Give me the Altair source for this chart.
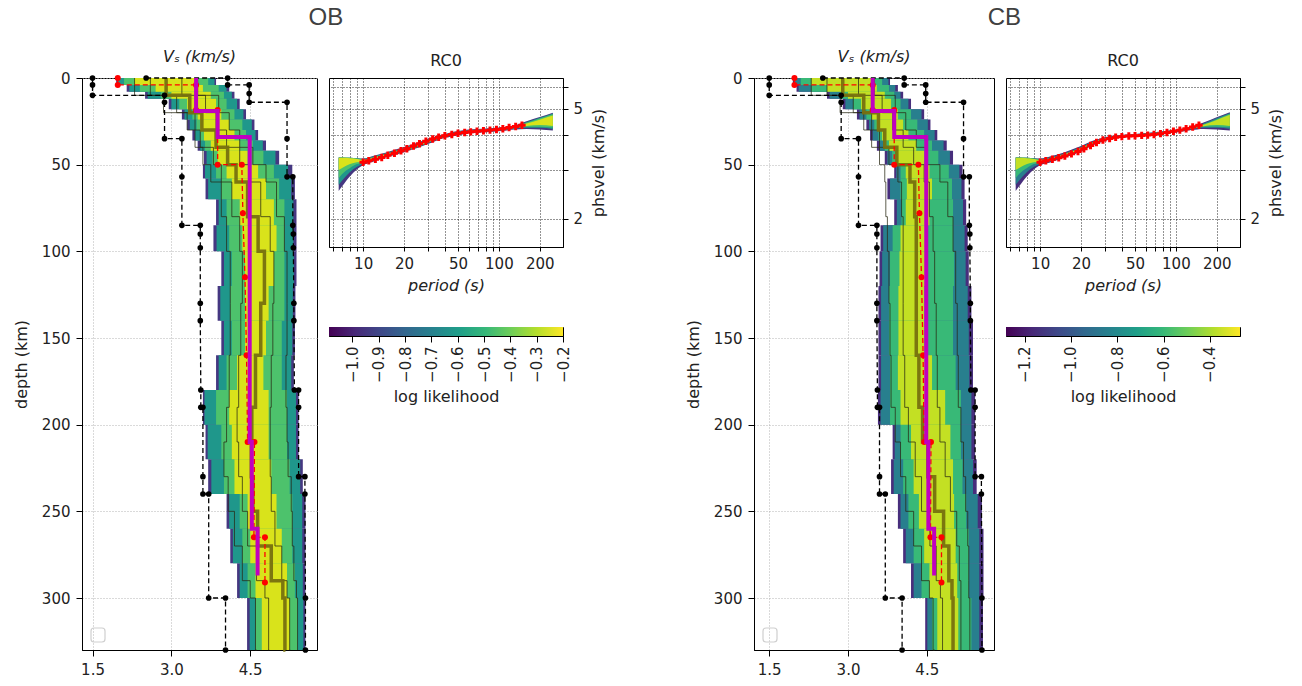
import altair as alt
import pandas as pd

FONT = "DejaVu Sans"

# ---------------- shared depth grid / reference models ----------------
DEPTH_EDGES = [0, 4, 8, 12, 18, 24, 30, 36, 42, 50, 58, 70, 85, 100, 120, 140,
               160, 180, 200, 220, 240, 260, 280, 300, 330]
PROFILE_DEPTHS = [0, 10, 20, 30, 40, 50, 60, 80, 100, 130, 160, 190, 210, 230,
                  250, 270, 290, 300, 330]

# prior bounds (vertices of the dashed black steps)
BMIN_V = [1.5, 1.5, 1.5, 2.87, 2.87, 2.87, 3.2, 3.2, 3.2, 3.55, 3.55, 3.55, 3.55,
          3.55, 3.56, 3.56, 3.6, 3.6, 3.6, 3.71, 3.71, 4.03, 4.03]
BMIN_D = [0, 4, 10, 10, 14, 35, 35, 57, 85, 85, 90, 98, 130, 140, 180, 190, 190,
          230, 240, 240, 300, 300, 330]
BMAX_V = [2.52, 4.07, 4.07, 4.48, 4.48, 4.48, 5.2, 5.2, 5.2, 5.31, 5.31, 5.32, 5.32,
          5.33, 5.33, 5.34, 5.42, 5.42, 5.42, 5.54, 5.54, 5.55, 5.55]
BMAX_D = [0, 0, 4, 4, 9, 14, 14, 35, 57, 57, 85, 90, 98, 130, 140, 180, 180, 190,
          230, 230, 240, 300, 330]

# reference model (red dashed)
RED_V = [1.98, 1.98, 3.47, 3.47, 3.88, 3.88, 4.34, 4.36, 4.4, 4.43, 4.45, 4.58,
         4.57, 4.78, 4.78]
RED_D = [0, 4, 4, 18.5, 18.5, 50, 50, 78, 115, 160, 210, 210, 265, 265, 291]

# magenta model
MAG_V = [3.47, 3.47, 3.88, 3.88, 4.49, 4.49, 4.53, 4.53, 4.64, 4.64]
MAG_D = [0, 19, 19, 34, 34, 210, 210, 260, 260, 287]

DISP_PERIODS = [6.6, 7, 8, 9, 10, 12, 15, 20, 25, 30, 40, 50, 60, 80, 100, 130,
                160, 200, 250]
OBS_PERIODS = [10, 11, 12.3, 13.7, 15.2, 17, 19, 21, 23.5, 26, 29, 32.5, 36, 40,
               45, 50, 56, 62, 69, 77, 86, 96, 107, 119, 133, 148]
GRID_PERIODS = [6, 7, 8, 9, 10, 20, 30, 40, 50, 60, 70, 80, 90, 100, 200]
PERIOD_LABELS = [10, 20, 50, 100, 200]
VEL_GRID = [2, 3, 4, 5, 6]
VEL_LABELS = [2, 5]

# ---------------- OB ----------------
OB_OUTER_LO = [1.95, 2.15, 2.5, 2.95, 3.2, 3.3, 3.4, 3.5, 3.62, 3.6, 3.65, 3.85, 3.8,
               3.95, 3.88, 3.95, 3.85, 3.6, 3.65, 3.7, 4.05, 4.12, 4.25, 4.44]
OB_OUTER_HI = [3.85, 4.1, 4.2, 4.3, 4.42, 4.58, 4.65, 4.8, 5.05, 5.3, 5.35, 5.38, 5.38,
               5.38, 5.36, 5.35, 5.33, 5.42, 5.42, 5.5, 5.55, 5.55, 5.55, 5.55]
OB_TEAL_LO = [1.98, 2.2, 2.55, 3.0, 3.25, 3.35, 3.45, 3.55, 3.67, 3.64, 3.7, 3.9, 3.86,
              4.0, 3.93, 4.0, 3.9, 3.63, 3.69, 3.76, 4.1, 4.17, 4.3, 4.49]
OB_TEAL_HI = [3.82, 4.05, 4.15, 4.25, 4.37, 4.53, 4.6, 4.74, 4.98, 5.22, 5.28, 5.32,
              5.32, 5.33, 5.31, 5.3, 5.28, 5.37, 5.37, 5.45, 5.49, 5.49, 5.5, 5.51]
OB_GREEN_LO = [2.1, 2.4, 2.8, 3.15, 3.4, 3.48, 3.55, 3.64, 3.78, 3.85, 3.95, 4.05, 4.1,
               4.15, 4.12, 4.15, 4.05, 3.85, 3.95, 4.0, 4.3, 4.35, 4.45, 4.6]
OB_GREEN_HI = [3.7, 3.9, 4.0, 4.05, 4.2, 4.35, 4.42, 4.55, 4.75, 4.95, 5.05, 5.15, 5.15,
               5.15, 5.15, 5.1, 5.1, 5.2, 5.2, 5.25, 5.3, 5.3, 5.35, 5.4]
OB_YELLOW_LO = [2.3, 2.7, 3.0, 3.3, 3.5, 3.55, 3.62, 3.75, 3.88, 4.05, 4.15, 4.3, 4.35,
                4.4, 4.4, 4.4, 4.25, 4.1, 4.15, 4.2, 4.45, 4.5, 4.6, 4.72]
OB_YELLOW_HI = [3.5, 3.6, 3.75, 3.85, 3.95, 4.1, 4.2, 4.3, 4.45, 4.65, 4.8, 4.95, 5.0,
                4.95, 4.85, 4.8, 4.75, 4.85, 4.85, 4.9, 5.0, 5.1, 5.2, 5.25]
OB_LEVELS = [-0.95, -0.62, -0.45, -0.25]

OB_P10 = [2.3, 2.85, 3.3, 3.45, 3.6, 3.75, 3.95, 4.05, 4.12, 4.12, 4.1, 4.05, 4.0,
          4.08, 4.2, 4.35, 4.5, 4.6, 4.62]
OB_P25 = [2.6, 3.1, 3.45, 3.55, 3.8, 3.95, 4.15, 4.3, 4.35, 4.32, 4.28, 4.25, 4.28,
          4.35, 4.45, 4.62, 4.78, 4.85, 4.86]
OB_P50 = [2.9, 3.35, 3.58, 3.85, 4.07, 4.23, 4.45, 4.65, 4.77, 4.7, 4.6, 4.53, 4.52,
          4.55, 4.64, 4.9, 5.12, 5.16, 5.17]
OB_P75 = [3.2, 3.65, 3.85, 4.05, 4.3, 4.5, 4.7, 4.88, 4.95, 4.93, 4.9, 4.88, 4.88,
          4.9, 4.97, 5.1, 5.2, 5.25, 5.26]
OB_P90 = [3.5, 3.9, 4.1, 4.3, 4.55, 4.8, 5.0, 5.15, 5.2, 5.2, 5.18, 5.2, 5.22, 5.28,
          5.3, 5.33, 5.38, 5.4, 5.4]

OB_D_OUTER_LO = [2.52, 2.62, 2.85, 3.02, 3.12, 3.22, 3.34, 3.48, 3.6, 3.72, 3.92, 4.0,
                 4.06, 4.11, 4.14, 4.2, 4.22, 4.2, 4.17]
OB_D_OUTER_HI = [3.33, 3.33, 3.32, 3.31, 3.3, 3.38, 3.48, 3.63, 3.76, 3.89, 4.05, 4.15,
                 4.2, 4.24, 4.27, 4.35, 4.5, 4.66, 4.83]
OB_D_TEAL_LO = [2.65, 2.75, 2.95, 3.08, 3.15, 3.24, 3.36, 3.5, 3.62, 3.75, 3.94, 4.02,
                4.08, 4.13, 4.16, 4.23, 4.26, 4.26, 4.22]
OB_D_TEAL_HI = [3.33, 3.33, 3.32, 3.31, 3.29, 3.36, 3.46, 3.61, 3.74, 3.87, 4.03, 4.13,
                4.18, 4.22, 4.25, 4.33, 4.47, 4.63, 4.8]
OB_D_GREEN_LO = [2.8, 2.9, 3.05, 3.15, 3.18, 3.26, 3.38, 3.52, 3.64, 3.77, 3.96, 4.04,
                 4.1, 4.15, 4.18, 4.25, 4.3, 4.3, 4.27]
OB_D_GREEN_HI = [3.33, 3.33, 3.32, 3.3, 3.28, 3.34, 3.44, 3.59, 3.72, 3.85, 4.01, 4.11,
                 4.16, 4.2, 4.23, 4.31, 4.44, 4.6, 4.77]
OB_D_YELLOW_LO = [3.0, 3.05, 3.15, 3.2, 3.21, 3.28, 3.4, 3.54, 3.66, 3.79, 3.97, 4.06,
                  4.11, 4.16, 4.19, 4.26, 4.33, 4.36, 4.33]
OB_D_YELLOW_HI = [3.32, 3.32, 3.31, 3.29, 3.26, 3.32, 3.42, 3.57, 3.7, 3.83, 4.0, 4.09,
                  4.14, 4.18, 4.22, 4.3, 4.42, 4.56, 4.72]
OB_OBS = [3.2, 3.24, 3.28, 3.33, 3.39, 3.45, 3.52, 3.58, 3.66, 3.73, 3.81, 3.88, 3.94,
          3.99, 4.03, 4.07, 4.1, 4.12, 4.14, 4.16, 4.18, 4.2, 4.23, 4.27, 4.31, 4.35]
OB_CBAR = [-1.089, -0.2]
OB_CBAR_TICKS = [-1.0, -0.9, -0.8, -0.7, -0.6, -0.5, -0.4, -0.3, -0.2]

# ---------------- CB ----------------
CB_OUTER_LO = [1.95, 2.02, 2.6, 2.9, 3.17, 3.35, 3.42, 3.55, 3.7, 3.88, 3.75, 3.88, 3.62,
               3.6, 3.58, 3.58, 3.58, 3.57, 3.85, 3.82, 3.95, 4.05, 4.2, 4.47]
CB_OUTER_HI = [3.8, 3.95, 4.05, 4.2, 4.45, 4.57, 4.7, 4.88, 5.0, 5.18, 5.22, 5.25, 5.28,
               5.3, 5.35, 5.38, 5.38, 5.42, 5.42, 5.45, 5.55, 5.58, 5.58, 5.57]
CB_TEAL_LO = [1.98, 2.06, 2.65, 2.95, 3.22, 3.4, 3.47, 3.6, 3.75, 3.92, 3.8, 3.93, 3.67,
              3.65, 3.63, 3.63, 3.63, 3.62, 3.89, 3.87, 4.0, 4.1, 4.25, 4.51]
CB_TEAL_HI = [3.77, 3.9, 4.0, 4.15, 4.4, 4.52, 4.65, 4.82, 4.94, 5.12, 5.16, 5.19, 5.22,
              5.24, 5.28, 5.3, 5.31, 5.35, 5.35, 5.38, 5.47, 5.5, 5.5, 5.5]
CB_GREEN_LO = [2.1, 2.3, 2.85, 3.1, 3.35, 3.5, 3.58, 3.7, 3.84, 4.0, 4.0, 4.02, 3.85,
               3.8, 3.78, 3.78, 3.8, 3.8, 4.0, 4.05, 4.15, 4.25, 4.4, 4.6]
CB_GREEN_HI = [3.65, 3.78, 3.88, 4.0, 4.2, 4.32, 4.45, 4.6, 4.72, 4.92, 4.98, 5.0, 5.0,
               5.02, 5.0, 5.0, 5.05, 5.15, 5.15, 5.18, 5.25, 5.3, 5.3, 5.35]
CB_YELLOW_LO = [2.3, 2.6, 3.0, 3.25, 3.45, 3.55, 3.65, 3.78, 3.92, 4.1, 4.12, 4.1, 4.0,
                3.98, 3.96, 3.96, 3.95, 4.0, 4.2, 4.25, 4.35, 4.45, 4.55, 4.7]
CB_YELLOW_HI = [3.45, 3.55, 3.7, 3.82, 3.95, 4.05, 4.15, 4.3, 4.45, 4.55, 4.6, 4.55, 4.5,
                4.48, 4.45, 4.45, 4.6, 4.85, 4.95, 5.0, 5.02, 5.05, 5.08, 5.1]
CB_LEVELS = [-1.15, -0.85, -0.6, -0.36]

CB_P10 = [2.3, 2.85, 3.3, 3.45, 3.6, 3.7, 3.72, 3.75, 3.78, 3.8, 3.82, 3.9, 4.0, 4.1,
          4.25, 4.4, 4.55, 4.62, 4.65]
CB_P25 = [2.6, 3.1, 3.45, 3.6, 3.78, 3.95, 4.02, 4.05, 4.05, 4.05, 4.08, 4.15, 4.28,
          4.4, 4.56, 4.68, 4.76, 4.8, 4.8]
CB_P50 = [2.9, 3.3, 3.58, 3.7, 3.93, 4.18, 4.27, 4.3, 4.3, 4.3, 4.35, 4.42, 4.52, 4.65,
          4.82, 4.92, 4.98, 5.0, 5.0]
CB_P75 = [3.2, 3.65, 3.85, 4.05, 4.25, 4.45, 4.55, 4.62, 4.65, 4.68, 4.7, 4.75, 4.85,
          4.95, 5.07, 5.12, 5.15, 5.15, 5.15]
CB_P90 = [3.5, 3.9, 4.1, 4.3, 4.5, 4.75, 4.9, 5.0, 5.05, 5.08, 5.1, 5.15, 5.2, 5.24,
          5.28, 5.3, 5.3, 5.32, 5.32]

CB_D_OUTER_LO = [2.52, 2.62, 2.85, 3.02, 3.12, 3.2, 3.32, 3.5, 3.7, 3.82, 3.92, 3.96,
                 3.99, 4.05, 4.1, 4.18, 4.22, 4.2, 4.17]
CB_D_OUTER_HI = [3.33, 3.33, 3.32, 3.31, 3.3, 3.36, 3.47, 3.66, 3.84, 3.94, 4.02, 4.05,
                 4.08, 4.14, 4.2, 4.3, 4.45, 4.65, 4.85]
CB_D_TEAL_LO = [2.65, 2.75, 2.95, 3.08, 3.15, 3.22, 3.34, 3.52, 3.72, 3.84, 3.93, 3.97,
                4.0, 4.07, 4.12, 4.21, 4.26, 4.26, 4.22]
CB_D_TEAL_HI = [3.33, 3.33, 3.32, 3.31, 3.29, 3.34, 3.45, 3.64, 3.82, 3.92, 4.01, 4.04,
                4.07, 4.13, 4.19, 4.28, 4.42, 4.62, 4.82]
CB_D_GREEN_LO = [2.8, 2.9, 3.05, 3.15, 3.18, 3.24, 3.36, 3.54, 3.74, 3.85, 3.94, 3.98,
                 4.01, 4.08, 4.13, 4.23, 4.3, 4.3, 4.27]
CB_D_GREEN_HI = [3.33, 3.33, 3.32, 3.3, 3.28, 3.32, 3.43, 3.62, 3.8, 3.91, 4.0, 4.03,
                 4.06, 4.12, 4.18, 4.26, 4.39, 4.58, 4.79]
CB_D_YELLOW_LO = [3.0, 3.05, 3.15, 3.2, 3.21, 3.26, 3.38, 3.56, 3.76, 3.86, 3.95, 3.99,
                  4.02, 4.09, 4.14, 4.24, 4.32, 4.36, 4.33]
CB_D_YELLOW_HI = [3.32, 3.32, 3.31, 3.29, 3.26, 3.3, 3.41, 3.6, 3.78, 3.9, 3.99, 4.02,
                  4.05, 4.11, 4.17, 4.25, 4.37, 4.55, 4.75]
CB_OBS = [3.2, 3.24, 3.28, 3.32, 3.37, 3.43, 3.5, 3.58, 3.68, 3.77, 3.85, 3.9, 3.94,
          3.96, 3.98, 3.99, 4.0, 4.01, 4.03, 4.06, 4.1, 4.14, 4.18, 4.23, 4.29, 4.35]
CB_CBAR = [-1.28, -0.27]
CB_CBAR_TICKS = [-1.2, -1.0, -0.8, -0.6, -0.4]

VIRIDIS = ["#440154", "#482878", "#3e4989", "#31688e", "#26828e", "#1f9e89",
           "#35b779", "#6ece58", "#b5de2b", "#fde725"]

LABEL_SIZE = 15
TITLE_SIZE = 16


def axis_kw(**kw):
    base = dict(labelFont=FONT, titleFont=FONT, labelFontSize=LABEL_SIZE,
                titleFontSize=TITLE_SIZE, titleFontWeight="normal",
                labelColor="#222", titleColor="#222", tickColor="black",
                domainColor="black")
    base.update(kw)
    return alt.Axis(**base)


def vs_panel(bands, levels, pcts, x_domain, cdom, width):
    rows = []
    for lvl, ((lo, hi), ll) in enumerate(zip(bands, levels)):
        for i in range(len(DEPTH_EDGES) - 1):
            rows.append(dict(top=DEPTH_EDGES[i], bot=DEPTH_EDGES[i + 1],
                             lo=lo[i], hi=hi[i], ll=ll, lvl=lvl))
    band_df = pd.DataFrame(rows)
    thin_rows = []
    for k, arr in enumerate([pcts[0], pcts[1], pcts[3], pcts[4]]):
        for d, v in zip(PROFILE_DEPTHS, arr):
            thin_rows.append(dict(v=v, d=d, line=k))
    thin_df = pd.DataFrame(thin_rows)
    med_df = pd.DataFrame(dict(v=pcts[2], d=PROFILE_DEPTHS))
    bnd_rows = []
    for name, vs, ds in [("min", BMIN_V, BMIN_D), ("max", BMAX_V, BMAX_D)]:
        for i, (v, d) in enumerate(zip(vs, ds)):
            bnd_rows.append(dict(v=v, d=d, which=name, seq=i))
    bnd_df = pd.DataFrame(bnd_rows)
    red_df = pd.DataFrame(dict(v=RED_V, d=RED_D, seq=list(range(len(RED_V)))))
    mag_df = pd.DataFrame(dict(v=MAG_V, d=MAG_D, seq=list(range(len(MAG_V)))))

    xs = alt.Scale(domain=x_domain, nice=False, zero=False)
    ys = alt.Scale(domain=[0, 330], reverse=True, nice=False, zero=False)
    xax = axis_kw(values=[1.5, 3.0, 4.5], format=".1f", title=None, grid=True,
                  gridDash=[1, 2], gridColor="#b5b5b5", gridWidth=1,
                  labelPadding=6, tickSize=6)
    yax = axis_kw(values=[0, 50, 100, 150, 200, 250, 300], title="depth (km)",
                  grid=True, gridDash=[1, 2], gridColor="#b5b5b5", gridWidth=1,
                  labelPadding=6, titlePadding=12, tickSize=6)
    cscale = alt.Scale(scheme="viridis", domain=cdom)

    def X(f="v"):
        return alt.X(f"{f}:Q", scale=xs, axis=xax)

    def Y(f="d"):
        return alt.Y(f"{f}:Q", scale=ys, axis=yax)

    band = alt.Chart(band_df).mark_rect().encode(
        x=X("lo"), x2="hi:Q", y=Y("top"), y2="bot:Q",
        color=alt.Color("ll:Q", scale=cscale, legend=None))
    thin = alt.Chart(thin_df).mark_line(
        interpolate="step-before", color="#2a2a14", strokeWidth=1, opacity=0.75
    ).encode(x=X(), y=Y(), detail="line:N", order="d:Q")
    med = alt.Chart(med_df).mark_line(
        interpolate="step-before", color="#77700f", strokeWidth=3.5, opacity=0.95
    ).encode(x=X(), y=Y(), order="d:Q")
    bnd_line = alt.Chart(bnd_df).mark_line(
        color="black", strokeDash=[5, 3], strokeWidth=1.3
    ).encode(x=X(), y=Y(), detail="which:N", order="seq:Q")
    bnd_pts = alt.Chart(bnd_df).mark_circle(color="black", size=32, opacity=1).encode(
        x=X(), y=Y())
    red_line = alt.Chart(red_df).mark_line(
        color="red", strokeDash=[5, 3], strokeWidth=1.3
    ).encode(x=X(), y=Y(), order="seq:Q")
    red_pts = alt.Chart(red_df).mark_circle(color="red", size=36, opacity=1).encode(
        x=X(), y=Y())
    mag = alt.Chart(mag_df).mark_line(color="#c000c0", strokeWidth=4).encode(
        x=X(), y=Y(), order="seq:Q")
    box = alt.Chart(pd.DataFrame({"k": [0]})).mark_rect(
        filled=False, stroke="#cfcfcf", strokeWidth=1.2, cornerRadius=3
    ).encode(x=alt.value(9), x2=alt.value(23), y=alt.value(550), y2=alt.value(564))

    return alt.layer(band, thin, med, bnd_line, bnd_pts, red_line, red_pts, mag,
                     box).properties(
        width=width, height=572,
        title=alt.TitleParams("Vₛ (km/s)", fontStyle="italic", fontSize=16,
                              fontWeight="normal", font=FONT, offset=5,
                              frame="group", color="#222"))


def disp_panel(dbands, levels, obs, cdom):
    xs = alt.Scale(type="log", domain=[5.6, 297], nice=False)
    ys = alt.Scale(type="log", domain=[1.58, 6.45], nice=False)
    lab_x = " || ".join(f"datum.value == {p}" for p in PERIOD_LABELS)
    lab_y = " || ".join(f"datum.value == {p}" for p in VEL_LABELS)
    xax = axis_kw(values=GRID_PERIODS, labelExpr=f"({lab_x}) ? datum.label : ''",
                  format="d", title="period (s)", titleFontStyle="italic",
                  grid=True, gridColor="black", gridDash=[1, 2], gridOpacity=0.85,
                  tickSize=4, labelPadding=5, labelFlush=False, titlePadding=6)
    yax = axis_kw(values=VEL_GRID, labelExpr=f"({lab_y}) ? datum.label : ''",
                  orient="right", title="phsvel (km/s)", titleAngle=270,
                  titleBaseline="top", grid=True, gridColor="black",
                  gridDash=[1, 2], gridOpacity=0.85, tickSize=5, labelPadding=5,
                  titlePadding=8, labelFlush=False)
    cscale = alt.Scale(scheme="viridis", domain=cdom)
    layers = []
    for (lo, hi), ll in zip(dbands, levels):
        df = pd.DataFrame(dict(p=DISP_PERIODS, lo=lo, hi=hi, ll=[ll] * len(lo)))
        layers.append(alt.Chart(df).mark_area(interpolate="monotone").encode(
            x=alt.X("p:Q", scale=xs, axis=xax),
            y=alt.Y("lo:Q", scale=ys, axis=yax), y2="hi:Q",
            color=alt.Color("ll:Q", scale=cscale, legend=None)))
    odf = pd.DataFrame(dict(p=OBS_PERIODS, v=obs))
    layers.append(alt.Chart(odf).mark_line(color="red", strokeWidth=1.5).encode(
        x=alt.X("p:Q", scale=xs, axis=xax), y=alt.Y("v:Q", scale=ys, axis=yax)))
    layers.append(alt.Chart(odf).mark_point(
        shape="cross", filled=True, color="red", size=55, opacity=1).encode(
        x=alt.X("p:Q", scale=xs, axis=xax), y=alt.Y("v:Q", scale=ys, axis=yax)))
    return alt.layer(*layers).properties(
        width=234, height=169,
        title=alt.TitleParams("RC0", fontSize=16, fontWeight="normal", font=FONT,
                              offset=9, frame="group", color="#222"))


def cbar(dom, ticks):
    grad = alt.LinearGradient(
        gradient="linear", x1=0, x2=1, y1=0, y2=0,
        stops=[alt.GradientStop(color=c, offset=i / (len(VIRIDIS) - 1))
               for i, c in enumerate(VIRIDIS)])
    df = pd.DataFrame(dict(lo=[dom[0]], hi=[dom[1]]))
    return alt.Chart(df).mark_rect(color=grad).encode(
        x=alt.X("lo:Q", scale=alt.Scale(domain=dom, nice=False, zero=False),
                axis=axis_kw(values=ticks, format=".1f", labelAngle=270,
                             title="log likelihood", grid=False, tickSize=6,
                             labelPadding=4, titlePadding=6)),
        x2="hi:Q", y=alt.value(0), y2=alt.value(9)
    ).properties(width=234, height=9)


def group(title, bands, levels, pcts, dbands, obs, cdom, cticks, x_domain, width,
          dx):
    left = vs_panel(bands, levels, pcts, x_domain, cdom, width)
    right = alt.vconcat(disp_panel(dbands, levels, obs, cdom), cbar(cdom, cticks),
                        spacing=32).resolve_scale(color="independent",
                                                  x="independent", y="independent")
    return alt.hconcat(left, right, spacing=10).resolve_scale(
        color="independent", x="independent", y="independent").properties(
        title=alt.TitleParams(title, fontSize=24, font="Liberation Sans",
                              fontWeight="normal", color="#404040",
                              anchor="middle", offset=19, dx=dx))


ob = group("OB",
           [(OB_OUTER_LO, OB_OUTER_HI), (OB_TEAL_LO, OB_TEAL_HI),
            (OB_GREEN_LO, OB_GREEN_HI), (OB_YELLOW_LO, OB_YELLOW_HI)],
           OB_LEVELS, [OB_P10, OB_P25, OB_P50, OB_P75, OB_P90],
           [(OB_D_OUTER_LO, OB_D_OUTER_HI), (OB_D_TEAL_LO, OB_D_TEAL_HI),
            (OB_D_GREEN_LO, OB_D_GREEN_HI), (OB_D_YELLOW_LO, OB_D_YELLOW_HI)],
           OB_OBS, OB_CBAR, OB_CBAR_TICKS, [1.3, 5.77], 235, 16)
cb = group("CB",
           [(CB_OUTER_LO, CB_OUTER_HI), (CB_TEAL_LO, CB_TEAL_HI),
            (CB_GREEN_LO, CB_GREEN_HI), (CB_YELLOW_LO, CB_YELLOW_HI)],
           CB_LEVELS, [CB_P10, CB_P25, CB_P50, CB_P75, CB_P90],
           [(CB_D_OUTER_LO, CB_D_OUTER_HI), (CB_D_TEAL_LO, CB_D_TEAL_HI),
            (CB_D_GREEN_LO, CB_D_GREEN_HI), (CB_D_YELLOW_LO, CB_D_YELLOW_HI)],
           CB_OBS, CB_CBAR, CB_CBAR_TICKS, [1.21, 5.78], 240, 20)

chart = alt.hconcat(ob, cb, spacing=76).resolve_scale(
    color="independent", x="independent", y="independent"
).properties(
    padding={"left": 12, "top": 5, "right": 5, "bottom": 5},
    background="white"
).configure_view(stroke="black", strokeWidth=1)

chart.save("out.html", embed_options={"renderer": "svg", "actions": False})
